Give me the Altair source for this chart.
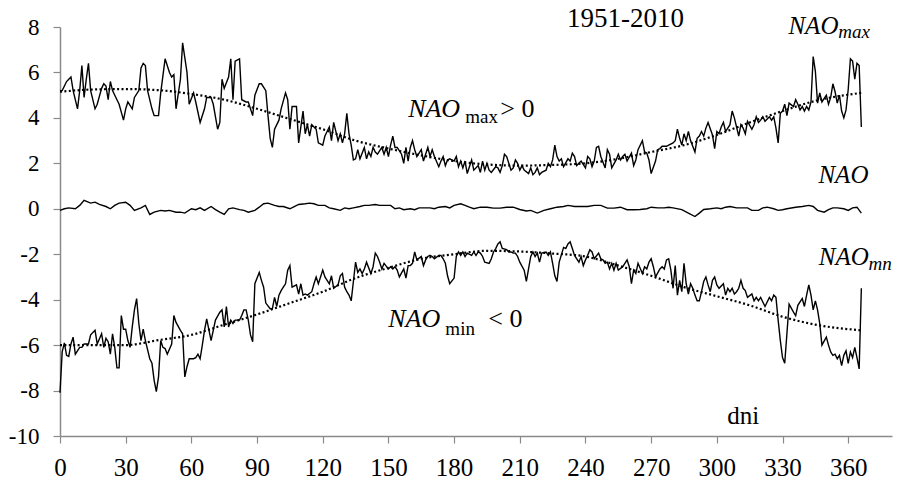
import altair as alt
import pandas as pd

# ---------------- data ----------------
max_days = [0, 1, 3, 4, 5, 6, 8, 9, 10, 11, 12, 13, 14, 16, 17, 19, 20, 21, 22, 23, 24, 26, 27, 29, 30, 31, 33, 34,
            36, 37, 38, 39, 40, 42, 43, 45, 46, 48, 50, 51, 52, 53, 55, 56, 58, 59, 61, 62, 64, 66, 67, 69, 70, 72,
            73, 74, 75, 77, 78, 79, 80, 82, 83, 85, 86, 88, 89, 91, 92, 94, 95, 96, 97, 98, 100, 101, 103, 104, 105,
            106, 108, 109, 111, 112, 113, 114, 115, 117, 118, 120, 121, 123, 124, 125, 127, 128, 129, 130, 131, 132,
            133, 134, 135, 136, 137, 139, 140, 141, 142, 143, 144, 145, 147, 148, 149, 150, 151, 152, 153, 154, 156,
            157, 158, 159, 160, 161, 162, 163, 165, 166, 167, 168, 169, 170, 171, 173, 174, 175, 176, 177, 178, 180,
            181, 182, 183, 184, 185, 186, 187, 188, 189, 191, 192, 193, 194, 195, 196, 197, 199, 200, 201, 202, 203,
            204, 206, 207, 208, 209, 210, 211, 212, 214, 215, 216, 217, 218, 219, 220, 222, 223, 224, 225, 226, 227,
            228, 229, 230, 232, 233, 234, 235, 236, 237, 238, 240, 241, 242, 243, 244, 245, 246, 247, 249, 250, 251,
            252, 254, 255, 256, 257, 258, 259, 261, 262, 263, 264, 266, 267, 268, 269, 270, 272, 273, 274, 275, 276,
            277, 278, 280, 281, 282, 283, 284, 285, 286, 287, 288, 290, 291, 292, 293, 294, 295, 296, 298, 299, 300,
            301, 302, 303, 304, 306, 307, 308, 309, 310, 311, 312, 313, 314, 316, 317, 318, 319, 320, 321, 322, 324,
            325, 326, 327, 328, 329, 330, 331, 332, 333, 335, 336, 337, 338, 339, 340, 341, 342, 343, 344, 345, 346,
            347, 348, 350, 351, 352, 353, 354, 355, 356, 357, 358, 359, 360, 361, 362, 363, 364, 365, 366]
max_vals = [5.2, 5.2, 5.6, 5.7, 5.8, 5.2, 4.4, 5.2, 6.3, 4.9, 5.7, 6.4, 5.2, 4.4, 4.6, 5.3, 5.5, 5.4, 4.8, 5.6, 5.2,
            4.8, 4.6, 3.9, 4.4, 4.7, 4.4, 4.9, 5.2, 6.2, 6.4, 6.3, 5.2, 4.4, 4.1, 4.1, 5.1, 6.6, 6.0, 5.8, 5.9, 4.4,
            5.7, 7.3, 6.0, 4.6, 5.1, 4.7, 3.8, 4.4, 4.9, 4.9, 4.6, 3.5, 3.8, 5.7, 5.3, 5.8, 6.6, 4.8, 6.5, 6.6, 4.8,
            4.7, 4.7, 4.1, 5.0, 5.5, 5.5, 5.2, 4.1, 3.1, 2.7, 3.5, 3.9, 4.4, 5.1, 4.8, 3.5, 4.5, 4.5, 2.9, 4.3, 3.3,
            3.7, 3.2, 3.7, 3.5, 2.9, 2.8, 3.2, 3.6, 3.0, 3.8, 3.0, 3.3, 2.9, 3.3, 4.2, 3.3, 2.8, 2.15, 2.2, 2.6, 2.2,
            2.7, 2.2, 2.5, 2.3, 2.7, 2.5, 2.4, 2.7, 2.4, 2.7, 2.3, 2.8, 3.2, 2.7, 2.7, 2.4, 2.0, 2.7, 2.1, 2.7, 3.0,
            2.6, 2.3, 2.6, 2.1, 2.4, 2.7, 2.3, 2.6, 2.3, 1.85, 2.1, 2.3, 1.9, 2.15, 2.2, 2.1, 2.3, 1.85, 2.1, 1.8,
            2.1, 1.55, 1.85, 2.15, 1.7, 1.9, 1.6, 2.1, 1.7, 2.0, 1.7, 1.6, 1.85, 1.8, 1.6, 1.9, 2.4, 2.3, 1.7, 1.8,
            2.15, 2.0, 1.7, 1.9, 1.7, 1.55, 1.8, 1.5, 1.6, 1.8, 1.5, 1.6, 1.7, 2.0, 1.85, 2.15, 2.8, 2.3, 2.1, 2.2,
            1.85, 2.2, 2.1, 2.45, 2.3, 1.9, 2.0, 2.1, 1.8, 2.3, 2.2, 1.85, 2.1, 2.7, 2.75, 2.3, 1.8, 2.6, 2.4, 1.8,
            2.15, 2.4, 2.15, 2.3, 2.4, 2.1, 2.45, 1.9, 2.15, 2.6, 3.0, 2.5, 2.45, 2.15, 1.55, 2.1, 2.6, 2.65, 2.75,
            2.75, 2.75, 2.8, 2.9, 3.0, 3.5, 3.1, 2.8, 3.3, 3.0, 3.4, 3.0, 2.5, 3.1, 3.2, 3.4, 3.2, 3.55, 3.8, 3.25,
            2.65, 3.4, 3.3, 3.6, 3.8, 3.4, 3.7, 4.3, 4.0, 3.6, 3.2, 3.7, 3.55, 3.3, 3.85, 3.5, 3.7, 4.05, 3.8, 3.9,
            4.05, 3.85, 4.05, 3.9, 4.05, 3.55, 2.9, 4.2, 4.3, 4.6, 4.1, 4.65, 4.5, 4.8, 4.6, 4.35, 4.5, 4.3, 4.5,
            4.35, 4.7, 6.7, 6.05, 4.65, 5.1, 4.7, 5.0, 4.6, 4.9, 5.5, 5.15, 4.65, 5.0, 4.3, 4.0, 4.35, 5.25, 6.6,
            6.5, 5.7, 6.4, 6.3, 3.6]

min_days = [0, 1, 2, 3, 4, 5, 6, 7, 9, 10, 11, 13, 14, 16, 17, 19, 20, 21, 22, 23, 24, 25, 26, 27, 28, 29, 30, 31,
            32, 33, 34, 35, 36, 37, 38, 39, 41, 42, 43, 44, 45, 46, 47, 48, 49, 51, 52, 53, 55, 56, 57, 58, 59, 61,
            62, 63, 64, 65, 66, 67, 69, 70, 71, 73, 74, 75, 76, 77, 78, 79, 80, 82, 83, 84, 85, 86, 87, 88, 89, 91,
            92, 93, 94, 96, 97, 98, 99, 100, 101, 102, 103, 104, 105, 106, 108, 109, 110, 111, 112, 113, 115, 116,
            117, 118, 119, 120, 121, 123, 124, 125, 127, 128, 129, 130, 131, 132, 133, 134, 135, 136, 137, 138, 139,
            140, 142, 143, 144, 145, 146, 147, 148, 150, 151, 152, 153, 154, 155, 157, 158, 159, 160, 161, 162, 163,
            165, 166, 167, 168, 169, 170, 171, 173, 174, 175, 176, 177, 178, 180, 181, 182, 183, 184, 185, 186, 188,
            189, 190, 191, 192, 193, 194, 196, 197, 198, 199, 200, 201, 202, 204, 205, 206, 207, 208, 209, 210, 212,
            213, 214, 215, 216, 217, 218, 219, 220, 222, 223, 224, 225, 226, 227, 228, 230, 231, 232, 233, 234, 235,
            237, 238, 239, 240, 241, 242, 243, 244, 246, 247, 248, 249, 250, 251, 252, 253, 254, 255, 257, 258, 259,
            260, 261, 262, 263, 264, 266, 267, 268, 269, 270, 271, 272, 274, 275, 276, 277, 278, 279, 280, 281, 282,
            283, 284, 285, 286, 287, 288, 289, 290, 291, 292, 293, 294, 295, 296, 297, 298, 299, 300, 301, 303, 304,
            305, 306, 307, 308, 309, 310, 311, 312, 313, 314, 316, 317, 318, 319, 320, 321, 322, 324, 325, 326, 327,
            328, 329, 330, 331, 332, 333, 335, 336, 337, 338, 339, 340, 341, 342, 343, 344, 345, 346, 347, 348, 350,
            351, 352, 353, 354, 355, 356, 357, 358, 359, 360, 361, 362, 363, 364, 365, 366]
min_vals = [-8.1, -6.3, -5.9, -6.45, -6.5, -5.95, -5.65, -6.4, -6.1, -6.1, -5.95, -5.95, -5.55, -5.35, -5.95, -5.5,
            -6.1, -5.7, -5.85, -6.4, -5.5, -6.1, -7.0, -7.0, -4.7, -5.3, -5.3, -5.8, -6.1, -5.2, -4.45, -3.95, -5.05,
            -5.8, -5.3, -5.8, -6.6, -6.8, -7.55, -8.05, -7.4, -5.8, -6.1, -6.15, -6.4, -5.95, -4.7, -5.0, -5.35, -5.5,
            -7.4, -6.95, -6.6, -6.6, -6.55, -6.4, -6.6, -6.0, -5.35, -4.85, -5.8, -5.35, -4.9, -4.55, -4.45, -5.2,
            -4.3, -5.2, -4.9, -5.05, -4.9, -4.9, -4.7, -4.45, -4.45, -4.9, -5.55, -5.85, -3.3, -2.8, -3.15, -3.45,
            -4.15, -4.4, -4.4, -3.9, -4.3, -3.8, -3.6, -3.45, -3.3, -2.7, -2.5, -3.45, -3.35, -3.75, -3.3, -3.8,
            -3.75, -3.8, -3.65, -3.3, -3.0, -3.3, -3.0, -2.7, -3.0, -3.3, -2.95, -3.5, -3.35, -2.95, -2.85, -3.45,
            -3.65, -3.8, -4.05, -3.2, -2.35, -2.8, -2.65, -2.85, -2.65, -2.35, -2.85, -2.55, -1.95, -2.1, -2.35,
            -2.65, -2.4, -2.65, -2.55, -2.65, -2.55, -2.7, -3.0, -2.65, -3.05, -2.5, -2.5, -2.4, -1.9, -2.25, -2.1,
            -2.5, -2.25, -2.1, -2.05, -2.1, -2.2, -2.05, -2.05, -2.2, -2.4, -2.95, -3.3, -3.05, -2.1, -1.9, -2.05,
            -1.9, -2.1, -1.95, -2.05, -1.9, -2.05, -1.9, -1.95, -2.1, -2.35, -2.4, -2.2, -1.9, -1.75, -1.55, -1.45,
            -1.75, -1.8, -1.9, -1.9, -1.95, -1.95, -2.1, -2.35, -2.7, -3.2, -2.65, -2.1, -1.9, -2.1, -1.95, -2.35,
            -1.95, -1.9, -2.05, -1.9, -2.4, -2.95, -3.2, -2.35, -1.7, -1.75, -1.55, -1.45, -1.75, -2.05, -2.35, -2.1,
            -2.5, -2.25, -2.05, -1.8, -1.9, -2.2, -1.95, -2.2, -2.25, -2.4, -2.35, -2.65, -2.4, -2.7, -2.4, -2.7,
            -2.55, -2.4, -2.25, -2.55, -3.3, -2.7, -2.85, -2.4, -2.85, -2.55, -2.65, -2.35, -2.2, -2.55, -3.0, -2.65,
            -2.55, -2.65, -2.25, -2.2, -2.7, -3.5, -2.5, -3.8, -3.15, -3.65, -2.4, -3.3, -3.75, -3.3, -3.5, -3.8,
            -4.05, -4.05, -3.65, -3.2, -3.0, -3.35, -3.65, -3.15, -3.0, -3.35, -3.5, -3.3, -3.8, -3.5, -3.65, -3.5,
            -3.75, -3.65, -3.5, -3.15, -3.5, -3.6, -3.9, -3.75, -4.05, -3.9, -4.05, -3.9, -4.1, -4.3, -3.9, -4.05,
            -3.8, -3.9, -4.9, -5.8, -6.55, -6.8, -5.5, -4.2, -4.55, -4.7, -4.25, -4.1, -3.95, -4.3, -3.8, -3.35, -3.8,
            -4.45, -4.05, -4.45, -5.05, -6.0, -5.65, -6.0, -6.3, -6.45, -6.4, -6.6, -6.45, -6.9, -6.45, -6.25, -6.8,
            -6.3, -6.55, -6.1, -6.55, -7.05, -3.5]

nao_days = [0, 2, 4, 7, 9, 11, 14, 16, 18, 21, 23, 25, 27, 30, 32, 34, 37, 39, 41, 43, 46, 48, 50, 53, 55, 57, 60,
            62, 64, 66, 69, 71, 73, 75, 77, 79, 82, 84, 86, 89, 91, 93, 95, 98, 100, 102, 105, 107, 109, 112, 114,
            116, 118, 121, 123, 125, 128, 130, 132, 134, 137, 139, 141, 144, 146, 148, 151, 153, 155, 157, 160, 162,
            164, 167, 169, 171, 173, 176, 178, 180, 183, 185, 187, 189, 192, 195, 198, 201, 204, 207, 210, 213, 215,
            218, 221, 224, 227, 230, 232, 235, 238, 241, 244, 247, 250, 253, 256, 259, 262, 265, 268, 270, 273, 276,
            278, 280, 284, 287, 290, 292, 294, 297, 300, 302, 304, 306, 309, 311, 314, 316, 319, 321, 323, 326, 328,
            330, 332, 336, 339, 342, 344, 346, 349, 351, 353, 355, 358, 360, 362, 364, 366]
nao_vals = [-0.07, 0.0, 0.04, 0.0, 0.15, 0.37, 0.25, 0.29, 0.19, 0.1, 0.0, 0.15, 0.25, 0.29, 0.15, -0.07, 0.04,
            0.15, -0.25, -0.15, -0.07, -0.1, -0.07, -0.15, -0.15, -0.19, 0.0, -0.04, 0.04, -0.07, 0.1, -0.04, -0.15,
            -0.25, 0.0, 0.04, -0.04, -0.07, -0.15, -0.07, 0.07, 0.22, 0.25, 0.15, 0.1, 0.1, 0.0, 0.1, 0.19, 0.22,
            0.25, 0.22, 0.15, 0.15, 0.04, 0.0, -0.07, 0.04, 0.0, 0.04, 0.1, 0.15, 0.15, 0.19, 0.15, 0.15, 0.15, 0.0,
            0.04, -0.04, 0.0, -0.04, 0.04, 0.04, 0.04, 0.0, 0.07, 0.1, 0.04, 0.15, 0.22, 0.15, 0.07, 0.0, 0.07, 0.07,
            0.03, 0.03, 0.07, 0.07, -0.03, -0.1, -0.07, -0.19, -0.07, 0.0, 0.07, 0.1, 0.15, 0.1, 0.1, 0.1, 0.15,
            0.15, 0.03, 0.03, 0.07, -0.04, -0.04, -0.03, 0.0, 0.07, 0.04, 0.04, 0.07, 0.04, -0.04, -0.19, -0.34,
            -0.19, -0.03, 0.0, 0.04, 0.0, 0.07, 0.1, 0.04, 0.04, 0.04, -0.07, -0.07, 0.04, 0.07, 0.0, -0.07, -0.04,
            0.0, 0.07, 0.1, 0.15, 0.1, -0.07, -0.15, -0.04, 0.04, 0.04, 0.0, -0.07, 0.04, 0.07, -0.19]

trend_days = [0, 15, 30, 45, 60, 75, 90, 105, 120, 135, 150, 165, 180, 195, 210, 225, 240, 255, 270, 285, 300, 315,
              330, 345, 366]
trend_max_vals = [5.15, 5.25, 5.27, 5.22, 5.05, 4.8, 4.4, 3.95, 3.5, 3.0, 2.65, 2.35, 2.1, 1.95, 1.9, 1.93, 2.0,
                  2.2, 2.5, 2.8, 3.25, 3.8, 4.3, 4.75, 5.1]
trend_min_vals = [-6.0, -6.0, -6.0, -5.78, -5.55, -5.1, -4.65, -4.15, -3.65, -3.05, -2.6, -2.2, -2.0, -1.85, -1.88,
                  -1.97, -2.1, -2.5, -2.95, -3.45, -3.85, -4.25, -4.75, -5.1, -5.35]

x_ticks = list(range(0, 361, 30))
y_ticks = list(range(-10, 9, 2))


def frame(days, vals, name):
    return pd.DataFrame({"day": days, "value": vals, "series": name})


lines_df = pd.concat([frame(max_days, max_vals, "NAOmax"),
                      frame(nao_days, nao_vals, "NAO"),
                      frame(min_days, min_vals, "NAOmin")], ignore_index=True)
trend_df = pd.concat([frame(trend_days, trend_max_vals, "max"),
                      frame(trend_days, trend_min_vals, "min")], ignore_index=True)

FONT = "Liberation Serif"
AXIS_GREY = "#8a8a8a"

x_scale = alt.Scale(domain=[0, 380], nice=False, zero=False)
y_scale = alt.Scale(domain=[-10, 8], nice=False, zero=False)

x_axis = alt.Axis(values=x_ticks, title=None, grid=False, labelFont=FONT, labelFontSize=25,
                  labelColor="black", labelFlush=False, labelOverlap=False, labelBaseline="alphabetic",
                  labelPadding=32, tickSize=7, tickColor=AXIS_GREY, tickWidth=1.2,
                  domainColor=AXIS_GREY, domainWidth=1.5)
y_axis = alt.Axis(values=y_ticks, title=None, grid=False, labelFont=FONT, labelFontSize=23,
                  labelColor="black", labelOverlap=False, labelPadding=14, tickSize=7,
                  labelExpr="toString(datum.value)",
                  tickColor=AXIS_GREY, tickWidth=1.2, domainColor=AXIS_GREY, domainWidth=1.5)

X = alt.X("day:Q", scale=x_scale, axis=x_axis)
Y = alt.Y("value:Q", scale=y_scale, axis=y_axis)

lines = alt.Chart(lines_df).mark_line(color="black", strokeWidth=1.4).encode(
    x=X, y=Y, detail="series:N")

trend = alt.Chart(trend_df).mark_line(color="black", strokeWidth=2.2, strokeDash=[2, 2.4],
                                      interpolate="monotone").encode(x=X, y=Y, detail="series:N")


def text_layer(rows, size, italic=False, align="left"):
    df = pd.DataFrame(rows, columns=["label", "day", "value"])
    return alt.Chart(df).mark_text(font=FONT, fontSize=size, fontStyle="italic" if italic else "normal",
                                   align=align, baseline="alphabetic", color="black").encode(
        x=X, y=Y, text="label:N")


nao_side = text_layer([("NAO", 332.7, 7.71), ("NAO", 346.4, 1.13), ("NAO", 346.6, -2.47)], 25, italic=True)
nao_mid = text_layer([("NAO", 159.0, 4.04), ("NAO", 149.9, -5.22)], 26, italic=True)
sub_italic = text_layer([("max", 355.5, 7.53), ("mn", 369.3, -2.70)], 19, italic=True)
sub_upright = text_layer([("max", 185.1, 3.78), ("min", 176.0, -5.57)], 19)
signs = text_layer([("> 0", 201.1, 4.04), ("< 0", 195.6, -5.22)], 26)
xlabel = text_layer([("dni", 304.8, -9.45)], 25)
period = text_layer([("1951-2010", 285.0, 8.01)], 27, align="right")

chart = alt.layer(trend, lines, nao_side, nao_mid, sub_italic, sub_upright, signs, xlabel, period).properties(
    width=832, height=409,
    autosize=alt.AutoSizeParams(type="none"),
    padding={"left": 60, "top": 27, "right": 5, "bottom": 45},
    background="white",
).configure_view(stroke=None)

chart.save("out.html", embed_options={"renderer": "svg", "actions": False})
